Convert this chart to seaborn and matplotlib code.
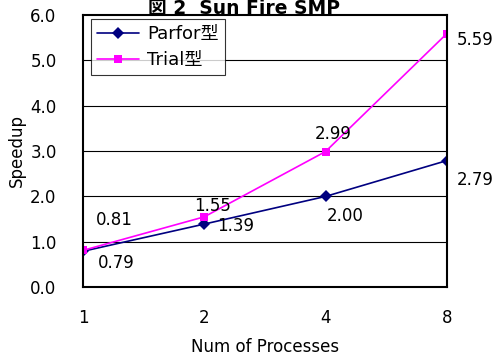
import matplotlib
matplotlib.use("Agg")
import matplotlib.pyplot as plt
import seaborn as sns
import pandas as pd

processes = ["1", "2", "4", "8"]
parfor = [0.79, 1.39, 2.00, 2.79]
trial = [0.81, 1.55, 2.99, 5.59]
series_names = ["Parfor型", "Trial型"]
y_ticks = [0.0, 1.0, 2.0, 3.0, 4.0, 5.0, 6.0]

sns.set_theme(style="white")
plt.rcParams["font.family"] = ["DejaVu Sans", "Noto Sans CJK JP"]
plt.rcParams["text.color"] = "black"
plt.rcParams["axes.labelcolor"] = "black"
plt.rcParams["xtick.color"] = "black"
plt.rcParams["ytick.color"] = "black"

df = pd.DataFrame({
    "Num of Processes": processes * 2,
    "Speedup": parfor + trial,
    "series": [series_names[0]] * 4 + [series_names[1]] * 4,
})

fig = plt.figure(figsize=(4.97, 3.58), dpi=100)
ax = fig.add_axes([0.167, 0.198, 0.732, 0.760])

palette = {series_names[0]: "#000080", series_names[1]: "#FF00FF"}
markers = {series_names[0]: "D", series_names[1]: "s"}
sns.lineplot(data=df, x="Num of Processes", y="Speedup", hue="series", style="series",
             palette=palette, markers=markers, dashes=False, markersize=6,
             markeredgewidth=0, linewidth=1.2, ax=ax, sort=False)

ax.set_xlim(0, 3)
ax.set_ylim(0, 6)
ax.set_yticks(y_ticks)
ax.set_yticklabels([f"{v:.1f}" for v in y_ticks], fontsize=12)
ax.tick_params(axis="y", length=0, pad=19)
ax.tick_params(axis="x", direction="in", length=4.5, width=1, color="black", pad=16, labelsize=12)
for v in y_ticks[1:-1]:
    ax.axhline(v, color="black", linewidth=0.8, zorder=0)
for s in ax.spines.values():
    s.set_color("black")
    s.set_linewidth(1.5)

ax.set_xlabel("Num of Processes", fontsize=12, labelpad=8)
ax.set_ylabel("")
fig.text(0.033, 0.58, "Speedup", rotation=90, fontsize=12, ha="center", va="center")
fig.text(0.49, 0.961, "図 2  Sun Fire SMP", fontsize=13.5, fontweight="bold",
         ha="center", va="baseline")

# data labels (offsets in data units)
xs = [0, 1, 2, 3]
parfor_off = [(0.12, -0.25), (0.11, -0.04), (0.01, -0.43), (0.08, -0.42)]
trial_off = [(0.11, 0.67), (-0.08, 0.23), (-0.09, 0.38), (0.08, -0.14)]
for i, x in enumerate(xs):
    dx, dy = parfor_off[i]
    ax.text(x + dx, parfor[i] + dy, f"{parfor[i]:.2f}", fontsize=12, va="center",
            ha="left", clip_on=False)
    dx, dy = trial_off[i]
    ax.text(x + dx, trial[i] + dy, f"{trial[i]:.2f}", fontsize=12, va="center",
            ha="left", clip_on=False)

leg = ax.legend(loc="upper left", bbox_to_anchor=(0.022, 0.987), frameon=True, fancybox=False,
                edgecolor="black", fontsize=13, handlelength=2.3, borderpad=0.35,
                labelspacing=0.45, handletextpad=0.45, borderaxespad=0)
leg.get_frame().set_linewidth(0.8)

fig.savefig("out.png", dpi=100)
